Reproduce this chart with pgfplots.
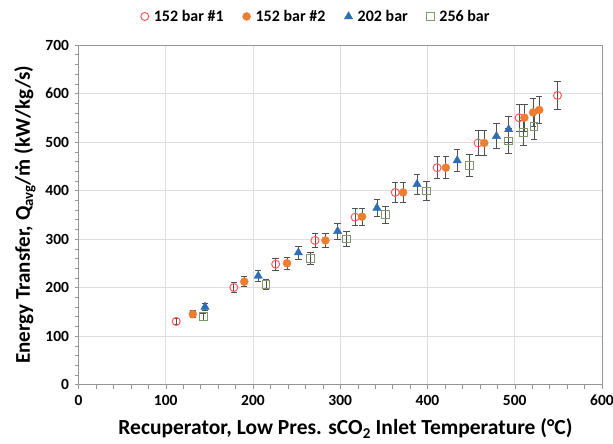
\documentclass[border=0pt]{standalone}
\usepackage{pgfplots}
\pgfplotsset{compat=1.18}
\usepackage{fontspec}
\setmainfont{Carlito}
\definecolor{cRed}{RGB}{255,90,90}
\definecolor{cOrange}{RGB}{237,125,49}
\definecolor{cBlue}{RGB}{46,110,182}
\definecolor{cGreen}{RGB}{125,155,105}
\definecolor{cGrid}{RGB}{222,222,222}
\definecolor{cAxis}{RGB}{150,150,150}
\definecolor{cErr}{RGB}{80,80,80}

\pgfplotstableread{
x y
112 130
178 200
226 248
271 297
317 345
363 396
411 447
458 498
505 550
549 596
}\sA
\pgfplotstableread{
x y
131 145
190 212
239 250
283 297
325 346
372 396
421 447
465 498
511 550
521 561
528 566
}\sB
\pgfplotstableread{
x y
145 160
206 224
252 272
297 316
342 364
388 413
434 462
479 512
493 526
}\sC
\pgfplotstableread{
x y
143 140
215 206
266 260
307 300
352 350
399 399
448 452
493 502
510 519
522 532
}\sD

\newcommand{\mdot}{\ooalign{m\cr\hidewidth˙\hidewidth\cr}}

\begin{document}
\begin{tikzpicture}[font=\fontsize{15bp}{18bp}\selectfont\bfseries]
\begin{axis}[
  scale only axis, width=523.5bp, height=339.5bp,
  xmin=0, xmax=600, ymin=0, ymax=700,
  xtick={0,100,...,600}, ytick={0,100,...,700},
  minor tick num=4,
  tick align=outside, tick pos=left,
  major tick length=4bp, minor tick length=4bp,
  every tick/.style={draw=cAxis},
  grid=major, major grid style={draw=cGrid, line width=0.6bp},
  axis line style={draw=cAxis, line width=0.8bp},
  /pgf/number format/assume math mode=true,
  ticklabel style={font=\fontsize{15.5bp}{18bp}\selectfont\bfseries},
  xticklabel style={yshift=-3bp},
  yticklabel style={xshift=-2bp},
  xlabel={Recuperator, Low Pres. sCO\textsubscript{2} Inlet Temperature (°C)},
  ylabel={Energy Transfer, Q\textsubscript{avg}/\mdot{} (kW/kg/s)},
  xlabel style={font=\fontsize{21.5bp}{24bp}\selectfont\bfseries,
    at={(axis description cs:0.51,-0.13)}, anchor=center},
  ylabel style={font=\fontsize{21bp}{24bp}\selectfont\bfseries,
    at={(axis description cs:-0.1022,0.5)}, anchor=center},
  legend columns=4,
  legend style={at={(0.454,1)}, anchor=south, yshift=18bp, draw=none, fill=none,
    font=\fontsize{16bp}{19bp}\selectfont\bfseries,
    /tikz/every odd column/.append style={column sep=3bp},
    /tikz/every even column/.append style={column sep=17bp}},
  legend cell align=left,
  error bars/y dir=both,
  error bars/y fixed relative=0.05,
  error bars/error bar style={draw=cErr, line width=0.8bp},
  error bars/error mark options={rotate=90, mark size=3.2bp, draw=cErr, line width=0.8bp},
]
\addplot[only marks, mark=o, mark size=4bp, mark options={draw=cRed, fill=white, line width=1bp}] table[x=x,y=y] {\sA};
\addlegendentry{152 bar \#1}
\addplot[only marks, mark=*, mark size=4bp, mark options={draw=cOrange, fill=cOrange}] table[x=x,y=y] {\sB};
\addlegendentry{152 bar \#2}
\addplot[only marks, mark=triangle*, mark size=4.8bp, mark options={draw=cBlue, fill=cBlue}] table[x=x,y=y] {\sC};
\addlegendentry{202 bar}
\addplot[only marks, mark=square, mark size=3.8bp, mark options={draw=cGreen, fill=white, line width=1bp}] table[x=x,y=y] {\sD};
\addlegendentry{256 bar}
\end{axis}
\pgfresetboundingbox
\path[use as bounding box] ([shift={(-78.5bp,-58.5bp)}]current axis.south west) rectangle ([shift={(11bp,45bp)}]current axis.north east);
\end{tikzpicture}
\end{document}
